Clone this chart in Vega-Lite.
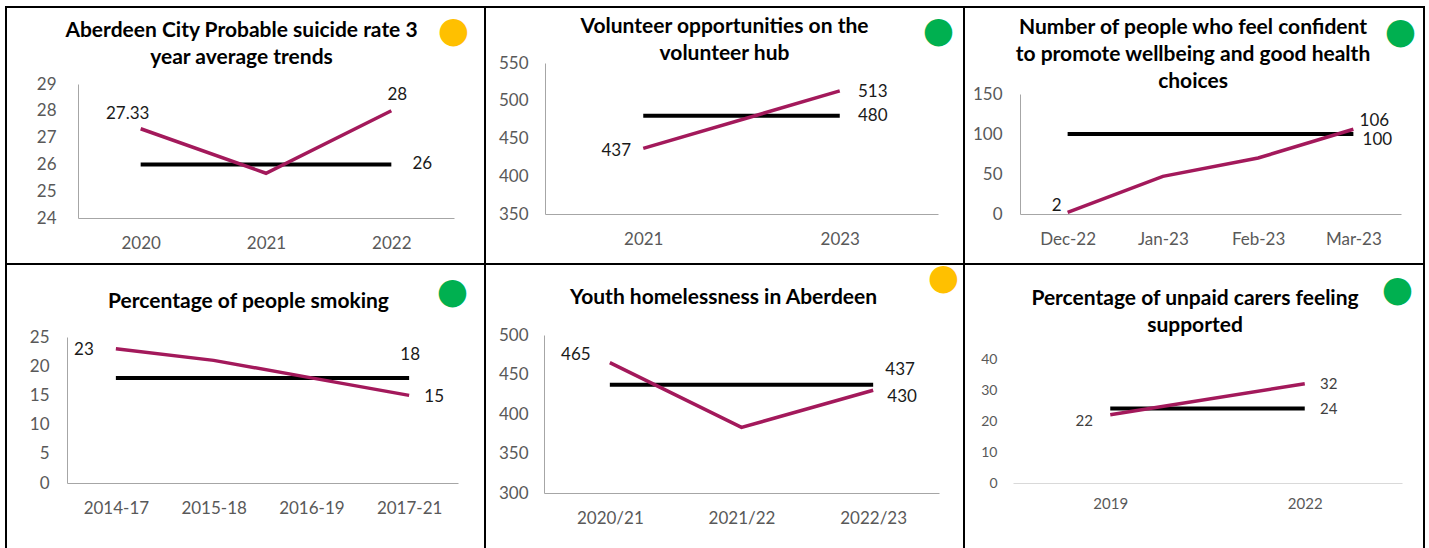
{
  "$schema": "https://vega.github.io/schema/vega-lite/v6.json",
  "padding": {"left": 5, "top": 6, "right": 0, "bottom": 0},
  "background": "white",
  "datasets": {
    "p1": [
      {"period": "2020", "value": 27.33, "series": "Actual"},
      {"period": "2021", "value": 25.67, "series": "Actual"},
      {"period": "2022", "value": 28, "series": "Actual"},
      {"period": "2020", "value": 26, "series": "Target"},
      {"period": "2021", "value": 26, "series": "Target"},
      {"period": "2022", "value": 26, "series": "Target"}
    ],
    "p2": [
      {"period": "2021", "value": 437, "series": "Actual"},
      {"period": "2023", "value": 513, "series": "Actual"},
      {"period": "2021", "value": 480, "series": "Target"},
      {"period": "2023", "value": 480, "series": "Target"}
    ],
    "p3": [
      {"period": "Dec-22", "value": 2, "series": "Actual"},
      {"period": "Jan-23", "value": 47, "series": "Actual"},
      {"period": "Feb-23", "value": 70, "series": "Actual"},
      {"period": "Mar-23", "value": 106, "series": "Actual"},
      {"period": "Dec-22", "value": 100, "series": "Target"},
      {"period": "Jan-23", "value": 100, "series": "Target"},
      {"period": "Feb-23", "value": 100, "series": "Target"},
      {"period": "Mar-23", "value": 100, "series": "Target"}
    ],
    "p4": [
      {"period": "2014-17", "value": 23, "series": "Actual"},
      {"period": "2015-18", "value": 21, "series": "Actual"},
      {"period": "2016-19", "value": 18, "series": "Actual"},
      {"period": "2017-21", "value": 15, "series": "Actual"},
      {"period": "2014-17", "value": 18, "series": "Target"},
      {"period": "2015-18", "value": 18, "series": "Target"},
      {"period": "2016-19", "value": 18, "series": "Target"},
      {"period": "2017-21", "value": 18, "series": "Target"}
    ],
    "p5": [
      {"period": "2020/21", "value": 465, "series": "Actual"},
      {"period": "2021/22", "value": 383, "series": "Actual"},
      {"period": "2022/23", "value": 430, "series": "Actual"},
      {"period": "2020/21", "value": 437, "series": "Target"},
      {"period": "2021/22", "value": 437, "series": "Target"},
      {"period": "2022/23", "value": 437, "series": "Target"}
    ],
    "p6": [
      {"period": "2019", "value": 22, "series": "Actual"},
      {"period": "2022", "value": 32, "series": "Actual"},
      {"period": "2019", "value": 24, "series": "Target"},
      {"period": "2022", "value": 24, "series": "Target"}
    ]
  },
  "columns": 3,
  "spacing": 0,
  "bounds": "flush",
  "align": "each",
  "concat": [
    {
      "width": 479, "height": 257,
      "title": {"text": ["Aberdeen City Probable suicide rate 3", "year average trends"], "offset": -61, "dx": -4},
      "data": {"name": "p1"},
      "encoding": {
        "x": {"field": "period", "type": "ordinal", "sort": ["2020", "2021", "2022"], "scale": {"type": "point", "range": [72, 448], "padding": 0.5}, "axis": {"offset": -46, "labelPadding": 25, "title": null}},
        "y": {"field": "value", "type": "quantitative", "scale": {"domain": [24, 29], "range": [211, 77], "nice": false, "zero": false}, "axis": {"offset": -72, "values": [24, 25, 26, 27, 28, 29], "labelPadding": 22, "title": "●", "titleColor": "#FFC000", "titleX": 375, "titleY": 23}}
      },
      "layer": [
        {"transform": [{"filter": "datum.series === 'Target'"}], "mark": {"type": "line", "color": "#000000", "strokeWidth": 4}},
        {"transform": [{"filter": "datum.series === 'Actual'"}], "mark": {"type": "line", "color": "#A3195B", "strokeWidth": 3.5}},
        {"transform": [{"filter": "datum.series === 'Actual' && datum.period === '2020'"}], "mark": {"type": "text", "dx": -13, "dy": -15}, "encoding": {"text": {"field": "value", "type": "nominal"}}},
        {"transform": [{"filter": "datum.series === 'Actual' && datum.period === '2022'"}], "mark": {"type": "text", "dx": 6, "dy": -16}, "encoding": {"text": {"field": "value", "type": "nominal"}}},
        {"transform": [{"filter": "datum.series === 'Target' && datum.period === '2022'"}], "mark": {"type": "text", "dx": 31, "dy": 0}, "encoding": {"text": {"field": "value", "type": "nominal"}}}
      ]
    },
    {
      "width": 479, "height": 257,
      "title": {"text": ["Volunteer opportunities on the", "volunteer hub"], "offset": -57, "dx": 0},
      "data": {"name": "p2"},
      "encoding": {
        "x": {"field": "period", "type": "ordinal", "sort": ["2021", "2023"], "scale": {"type": "point", "range": [60, 453], "padding": 0.5}, "axis": {"offset": -50, "labelPadding": 25, "title": null}},
        "y": {"field": "value", "type": "quantitative", "scale": {"domain": [350, 550], "range": [207, 56], "nice": false, "zero": false}, "axis": {"offset": -60, "values": [350, 400, 450, 500, 550], "labelPadding": 17, "title": "●", "titleColor": "#00B050", "titleX": 393, "titleY": 23}}
      },
      "layer": [
        {"transform": [{"filter": "datum.series === 'Target'"}], "mark": {"type": "line", "color": "#000000", "strokeWidth": 4}},
        {"transform": [{"filter": "datum.series === 'Actual'"}], "mark": {"type": "line", "color": "#A3195B", "strokeWidth": 3.5}},
        {"transform": [{"filter": "datum.series === 'Actual' && datum.period === '2021'"}], "mark": {"type": "text", "dx": -27, "dy": 3}, "encoding": {"text": {"field": "value", "type": "nominal"}}},
        {"transform": [{"filter": "datum.series === 'Actual' && datum.period === '2023'"}], "mark": {"type": "text", "dx": 33, "dy": 1}, "encoding": {"text": {"field": "value", "type": "nominal"}}},
        {"transform": [{"filter": "datum.series === 'Target' && datum.period === '2023'"}], "mark": {"type": "text", "dx": 33, "dy": 0}, "encoding": {"text": {"field": "value", "type": "nominal"}}}
      ]
    },
    {
      "width": 460, "height": 257,
      "title": {"text": ["Number of people who feel confident", "to promote wellbeing and good health", "choices"], "offset": -85, "dx": -1},
      "data": {"name": "p3"},
      "encoding": {
        "x": {"field": "period", "type": "ordinal", "sort": ["Dec-22", "Jan-23", "Feb-23", "Mar-23"], "scale": {"type": "point", "range": [56, 437], "padding": 0.5}, "axis": {"offset": -50, "labelPadding": 25, "title": null}},
        "y": {"field": "value", "type": "quantitative", "scale": {"domain": [0, 150], "range": [207, 87], "nice": false, "zero": false}, "axis": {"offset": -56, "values": [0, 50, 100, 150], "labelPadding": 18, "title": "●", "titleColor": "#00B050", "titleX": 380, "titleY": 24}}
      },
      "layer": [
        {"transform": [{"filter": "datum.series === 'Target'"}], "mark": {"type": "line", "color": "#000000", "strokeWidth": 4}},
        {"transform": [{"filter": "datum.series === 'Actual'"}], "mark": {"type": "line", "color": "#A3195B", "strokeWidth": 3.5}},
        {"transform": [{"filter": "datum.series === 'Actual' && datum.period === 'Dec-22'"}], "mark": {"type": "text", "dx": -11, "dy": -6}, "encoding": {"text": {"field": "value", "type": "nominal"}}},
        {"transform": [{"filter": "datum.series === 'Actual' && datum.period === 'Mar-23'"}], "mark": {"type": "text", "dx": 21, "dy": -8}, "encoding": {"text": {"field": "value", "type": "nominal"}}},
        {"transform": [{"filter": "datum.series === 'Target' && datum.period === 'Mar-23'"}], "mark": {"type": "text", "dx": 24, "dy": 6}, "encoding": {"text": {"field": "value", "type": "nominal"}}}
      ]
    },
    {
      "width": 479, "height": 290,
      "title": {"text": "Percentage of people smoking", "offset": -48, "dx": 3},
      "data": {"name": "p4"},
      "encoding": {
        "x": {"field": "period", "type": "ordinal", "sort": ["2014-17", "2015-18", "2016-19", "2017-21"], "scale": {"type": "point", "range": [61, 452], "padding": 0.5}, "axis": {"offset": -71, "labelPadding": 25, "title": null}},
        "y": {"field": "value", "type": "quantitative", "scale": {"domain": [0, 25], "range": [219, 73], "nice": false, "zero": false}, "axis": {"offset": -61, "values": [0, 5, 10, 15, 20, 25], "labelPadding": 18, "title": "●", "titleColor": "#00B050", "titleX": 385, "titleY": 27}}
      },
      "layer": [
        {"transform": [{"filter": "datum.series === 'Target'"}], "mark": {"type": "line", "color": "#000000", "strokeWidth": 4}},
        {"transform": [{"filter": "datum.series === 'Actual'"}], "mark": {"type": "line", "color": "#A3195B", "strokeWidth": 3.5}},
        {"transform": [{"filter": "datum.series === 'Actual' && datum.period === '2014-17'"}], "mark": {"type": "text", "dx": -32, "dy": 1}, "encoding": {"text": {"field": "value", "type": "nominal"}}},
        {"transform": [{"filter": "datum.series === 'Target' && datum.period === '2017-21'"}], "mark": {"type": "text", "dx": 1, "dy": -23}, "encoding": {"text": {"field": "value", "type": "nominal"}}},
        {"transform": [{"filter": "datum.series === 'Actual' && datum.period === '2017-21'"}], "mark": {"type": "text", "dx": 25, "dy": 2}, "encoding": {"text": {"field": "value", "type": "nominal"}}}
      ]
    },
    {
      "width": 479, "height": 290,
      "title": {"text": "Youth homelessness in Aberdeen", "offset": -49, "dx": -1},
      "data": {"name": "p5"},
      "encoding": {
        "x": {"field": "period", "type": "ordinal", "sort": ["2020/21", "2021/22", "2022/23"], "scale": {"type": "point", "range": [59, 454], "padding": 0.5}, "axis": {"offset": -61, "labelPadding": 25, "title": null}},
        "y": {"field": "value", "type": "quantitative", "scale": {"domain": [300, 500], "range": [229, 71], "nice": false, "zero": false}, "axis": {"offset": -59, "values": [300, 350, 400, 450, 500], "labelPadding": 16, "title": "●", "titleColor": "#FFC000", "titleX": 399, "titleY": 13}}
      },
      "layer": [
        {"transform": [{"filter": "datum.series === 'Target'"}], "mark": {"type": "line", "color": "#000000", "strokeWidth": 4}},
        {"transform": [{"filter": "datum.series === 'Actual'"}], "mark": {"type": "line", "color": "#A3195B", "strokeWidth": 3.5}},
        {"transform": [{"filter": "datum.series === 'Actual' && datum.period === '2020/21'"}], "mark": {"type": "text", "dx": -34, "dy": -8}, "encoding": {"text": {"field": "value", "type": "nominal"}}},
        {"transform": [{"filter": "datum.series === 'Target' && datum.period === '2022/23'"}], "mark": {"type": "text", "dx": 27, "dy": -15}, "encoding": {"text": {"field": "value", "type": "nominal"}}},
        {"transform": [{"filter": "datum.series === 'Actual' && datum.period === '2022/23'"}], "mark": {"type": "text", "dx": 29, "dy": 7}, "encoding": {"text": {"field": "value", "type": "nominal"}}}
      ]
    },
    {
      "width": 460, "height": 290,
      "title": {"text": ["Percentage of unpaid carers feeling", "supported"], "offset": -72, "dx": 1},
      "data": {"name": "p6"},
      "encoding": {
        "x": {"field": "period", "type": "ordinal", "sort": ["2019", "2022"], "scale": {"type": "point", "range": [49, 438], "padding": 0.5}, "axis": {"offset": -71, "labelPadding": 20, "labelFontSize": 15, "domainColor": "#D9D9D9", "title": null}},
        "y": {"field": "value", "type": "quantitative", "scale": {"domain": [0, 40], "range": [219, 95], "nice": false, "zero": false}, "axis": {"offset": -49, "values": [0, 10, 20, 30, 40], "labelPadding": 16, "labelFontSize": 14, "domain": false, "title": "●", "titleColor": "#00B050", "titleX": 384, "titleY": 25}}
      },
      "layer": [
        {"transform": [{"filter": "datum.series === 'Target'"}], "mark": {"type": "line", "color": "#000000", "strokeWidth": 4}},
        {"transform": [{"filter": "datum.series === 'Actual'"}], "mark": {"type": "line", "color": "#A3195B", "strokeWidth": 3.5}},
        {"transform": [{"filter": "datum.series === 'Actual' && datum.period === '2019'"}], "mark": {"type": "text", "dx": -26, "dy": 6, "fontSize": 15, "color": "#404040"}, "encoding": {"text": {"field": "value", "type": "nominal"}}},
        {"transform": [{"filter": "datum.series === 'Actual' && datum.period === '2022'"}], "mark": {"type": "text", "dx": 24, "dy": 0, "fontSize": 15, "color": "#404040"}, "encoding": {"text": {"field": "value", "type": "nominal"}}},
        {"transform": [{"filter": "datum.series === 'Target' && datum.period === '2022'"}], "mark": {"type": "text", "dx": 24, "dy": 0, "fontSize": 15, "color": "#404040"}, "encoding": {"text": {"field": "value", "type": "nominal"}}}
      ]
    }
  ],
  "config": {
    "view": {"stroke": "#000000", "strokeWidth": 2},
    "font": "Lato",
    "title": {"font": "Lato", "fontSize": 21, "fontWeight": "bold", "color": "#000000", "lineHeight": 27, "anchor": "middle", "frame": "group"},
    "axis": {"grid": false, "ticks": false, "tickSize": 0, "labelFont": "Lato", "labelFontSize": 17, "labelColor": "#595959", "domainColor": "#A6A6A6", "domainWidth": 1, "titleFont": "DejaVu Sans", "titleFontSize": 36, "titleFontWeight": "normal", "titleAngle": 0, "titleAlign": "center", "titleBaseline": "middle"},
    "axisX": {"labelAngle": 0, "labelBaseline": "middle"},
    "text": {"font": "Lato", "fontSize": 17, "color": "#1a1a1a", "align": "center", "baseline": "middle"}
  }
}
